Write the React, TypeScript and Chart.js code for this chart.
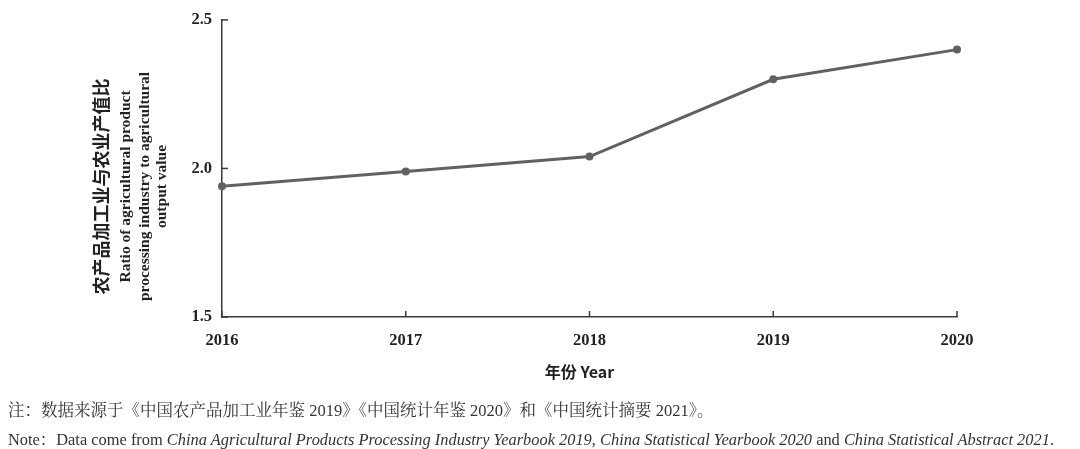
import React, { useEffect, useRef } from "react";
import { Chart, registerables } from "chart.js";

Chart.register(...registerables);

const years = ["2016", "2017", "2018", "2019", "2020"];
const ratioValues = [1.94, 1.99, 2.04, 2.3, 2.4];
const yTicks = [1.5, 2.0, 2.5];
const yTitleLines = [
  "农产品加工业与农业产值比",
  "Ratio of agricultural product",
  "processing industry to agricultural",
  "output value",
];
const xTitle = "年份 Year";

const LINE = "#616161";
const AXIS = "#3a3a3a";
const TEXT = "#222";
const SERIF = "'Liberation Serif', 'Noto Serif CJK SC', 'Noto Sans CJK SC', serif";
const CJK = "'Noto Sans CJK SC', 'Liberation Serif', sans-serif";

// Inward tick marks plus axis titles
const decorations = {
  id: "decorations",
  afterDraw(chart: any) {
    const { ctx, chartArea, scales } = chart;
    const { left, bottom, top } = chartArea;
    ctx.save();
    ctx.strokeStyle = AXIS;
    ctx.lineWidth = 1.5;
    yTicks.forEach((v) => {
      const y = scales.y.getPixelForValue(v);
      ctx.beginPath();
      ctx.moveTo(left, y);
      ctx.lineTo(left + 6, y);
      ctx.stroke();
    });
    years.forEach((_, i) => {
      const x = scales.x.getPixelForValue(i);
      ctx.beginPath();
      ctx.moveTo(x, bottom);
      ctx.lineTo(x, bottom - 6);
      ctx.stroke();
    });

    // rotated y title
    ctx.fillStyle = TEXT;
    ctx.textAlign = "center";
    ctx.textBaseline = "middle";
    const cy = (top + bottom) / 2 + 18;
    const xs = [101, 126, 145, 162];
    yTitleLines.forEach((line, i) => {
      ctx.save();
      ctx.translate(xs[i], cy);
      ctx.rotate(-Math.PI / 2);
      ctx.font = i === 0 ? `bold 18px ${CJK}` : `bold 15.5px ${SERIF}`;
      ctx.fillText(line, 0, 0);
      ctx.restore();
    });

    // x title
    ctx.font = `bold 16px ${CJK}`;
    ctx.fillText(xTitle, (chartArea.left + chartArea.right) / 2 - 10, 372);
    ctx.restore();
  },
};

export default function App() {
  const ref = useRef<HTMLCanvasElement | null>(null);

  useEffect(() => {
    document.body.style.margin = "0";
    const canvas = ref.current;
    if (!canvas) return;
    const chart = new Chart(canvas, {
      type: "line",
      data: {
        labels: years,
        datasets: [
          {
            data: ratioValues,
            borderColor: LINE,
            backgroundColor: LINE,
            borderWidth: 3,
            pointRadius: 4,
            pointBackgroundColor: LINE,
            pointBorderWidth: 0,
            tension: 0,
          },
        ],
      },
      options: {
        animation: false,
        responsive: false,
        maintainAspectRatio: false,
        layout: { padding: { top: 17, right: 123, left: 0, bottom: 0 } },
        plugins: { legend: { display: false }, tooltip: { enabled: false } },
        scales: {
          x: {
            offset: false,
            grid: { display: false, drawTicks: false },
            border: { display: true, color: AXIS, width: 1.5 },
            ticks: {
              color: TEXT,
              font: { family: SERIF, size: 16.5, weight: "bold" },
              padding: 14,
              maxRotation: 0,
            },
            afterFit: (s: any) => {
              s.height = 132;
            },
          },
          y: {
            min: 1.5,
            max: 2.5,
            afterBuildTicks: (s: any) => {
              s.ticks = yTicks.map((v) => ({ value: v }));
            },
            grid: { display: false, drawTicks: false },
            border: { display: true, color: AXIS, width: 1.5 },
            ticks: {
              color: TEXT,
              font: { family: SERIF, size: 16.5, weight: "bold" },
              padding: 10,
              callback: (v: any) => Number(v).toFixed(1),
            },
            afterFit: (s: any) => {
              s.width = 222;
            },
          },
        },
      },
      plugins: [decorations],
    });
    return () => chart.destroy();
  }, []);

  return (
    <div style={{ position: "relative", width: 1080, height: 449, background: "#fff" }}>
      <canvas ref={ref} width={1080} height={449} style={{ position: "absolute", left: 0, top: 0 }} />
      <div
        style={{
          position: "absolute",
          left: 8,
          top: 397,
          fontFamily: SERIF,
          fontSize: 16.5,
          color: "#333",
          whiteSpace: "nowrap",
        }}
      >
        注：数据来源于《中国农产品加工业年鉴 2019》《中国统计年鉴 2020》和《中国统计摘要 2021》。
      </div>
      <div
        style={{
          position: "absolute",
          left: 8,
          top: 426,
          fontFamily: SERIF,
          fontSize: 16.4,
          color: "#333",
          whiteSpace: "nowrap",
        }}
      >
        Note：Data come from <i>China Agricultural Products Processing Industry Yearbook 2019</i>,{" "}
        <i>China Statistical Yearbook 2020</i> and <i>China Statistical Abstract 2021</i>.
      </div>
    </div>
  );
}
